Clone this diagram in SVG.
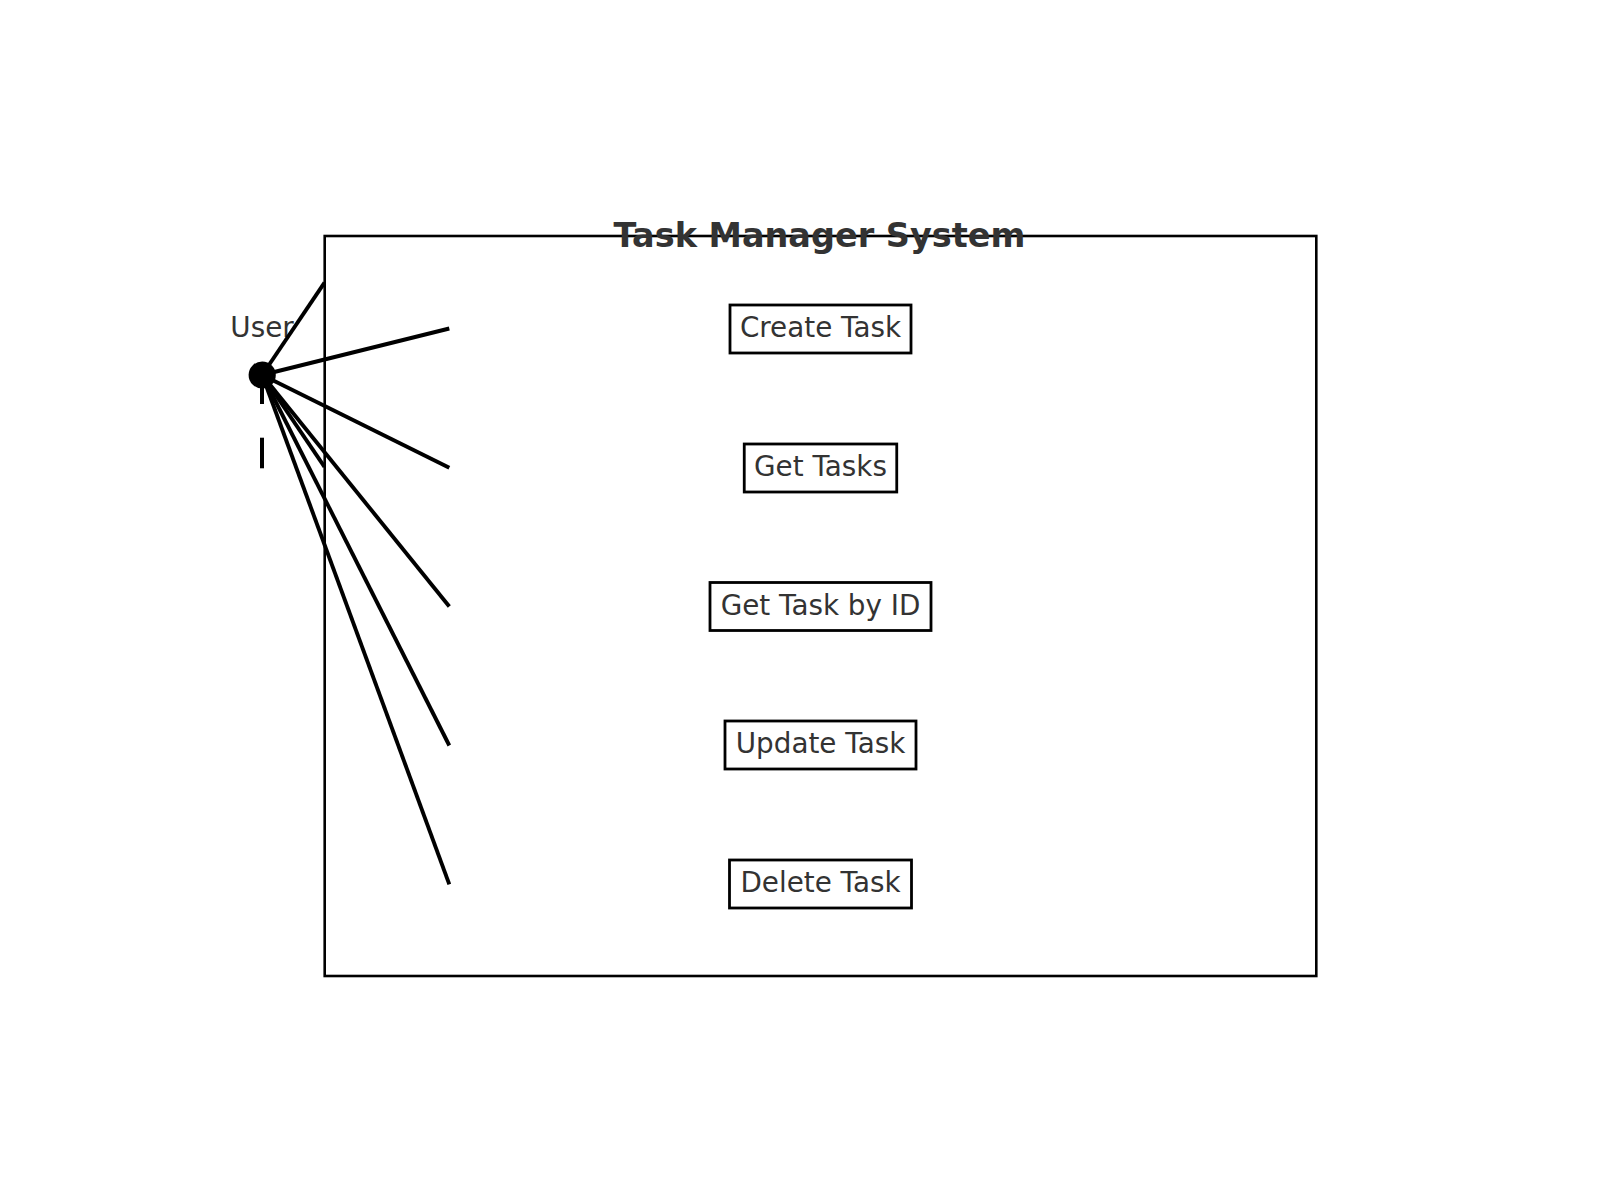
<svg xmlns="http://www.w3.org/2000/svg" width="1600" height="1200" viewBox="0 0 1600 1200">
<style>
.lbl{font-family:"DejaVu Sans","Liberation Sans",sans-serif;font-size:27.8px;fill:#333333;text-anchor:middle}
.title{font-family:"DejaVu Sans","Liberation Sans",sans-serif;font-size:33.5px;font-weight:bold;fill:#333333;text-anchor:middle}
.box{fill:#ffffff;stroke:#000000;stroke-width:2.8}
.conn{stroke:#000000;stroke-width:3.9;fill:none;stroke-linecap:butt}
</style>
<rect width="1600" height="1200" fill="#ffffff"/>
<g id="system">
<rect x="324.7" y="236" width="991.6" height="740" fill="none" stroke="#000000" stroke-width="2.6"/>
<text class="title" x="819.5" y="247">Task Manager System</text>
</g>
<g id="actor-user">
<text class="lbl" x="262" y="336.7">User</text>
<circle cx="262.2" cy="375" r="13.6" fill="#000000"/>
<line x1="262" y1="386" x2="262" y2="404" stroke="#000000" stroke-width="4"/>
<line x1="262" y1="437.7" x2="262" y2="468.3" stroke="#000000" stroke-width="4"/>
</g>
<g id="uc-create">
<rect class="box" x="730" y="305" width="181" height="48"/>
<text class="lbl" x="820.5" y="337">Create Task</text>
</g>
<g id="uc-get-tasks">
<rect class="box" x="744.25" y="444" width="152.5" height="48"/>
<text class="lbl" x="820.5" y="476">Get Tasks</text>
</g>
<g id="uc-get-by-id">
<rect class="box" x="710" y="582.5" width="221" height="48"/>
<text class="lbl" x="820.5" y="614.5">Get Task by ID</text>
</g>
<g id="uc-update">
<rect class="box" x="725" y="721" width="191" height="48"/>
<text class="lbl" x="820.5" y="753">Update Task</text>
</g>
<g id="uc-delete">
<rect class="box" x="729.5" y="860" width="182" height="48"/>
<text class="lbl" x="820.5" y="892">Delete Task</text>
</g>
<g id="connectors">
<line class="conn" x1="262.2" y1="375" x2="324.5" y2="282.7"/>
<line class="conn" x1="262.2" y1="375" x2="449.3" y2="328.5"/>
<line class="conn" x1="262.2" y1="375" x2="449.3" y2="467.8"/>
<line class="conn" x1="262.2" y1="375" x2="324.5" y2="466.8"/>
<line class="conn" x1="262.2" y1="375" x2="449.3" y2="606.5"/>
<line class="conn" x1="262.2" y1="375" x2="449.3" y2="745.5"/>
<line class="conn" x1="262.2" y1="375" x2="449.3" y2="884.3"/>
</g>
</svg>
